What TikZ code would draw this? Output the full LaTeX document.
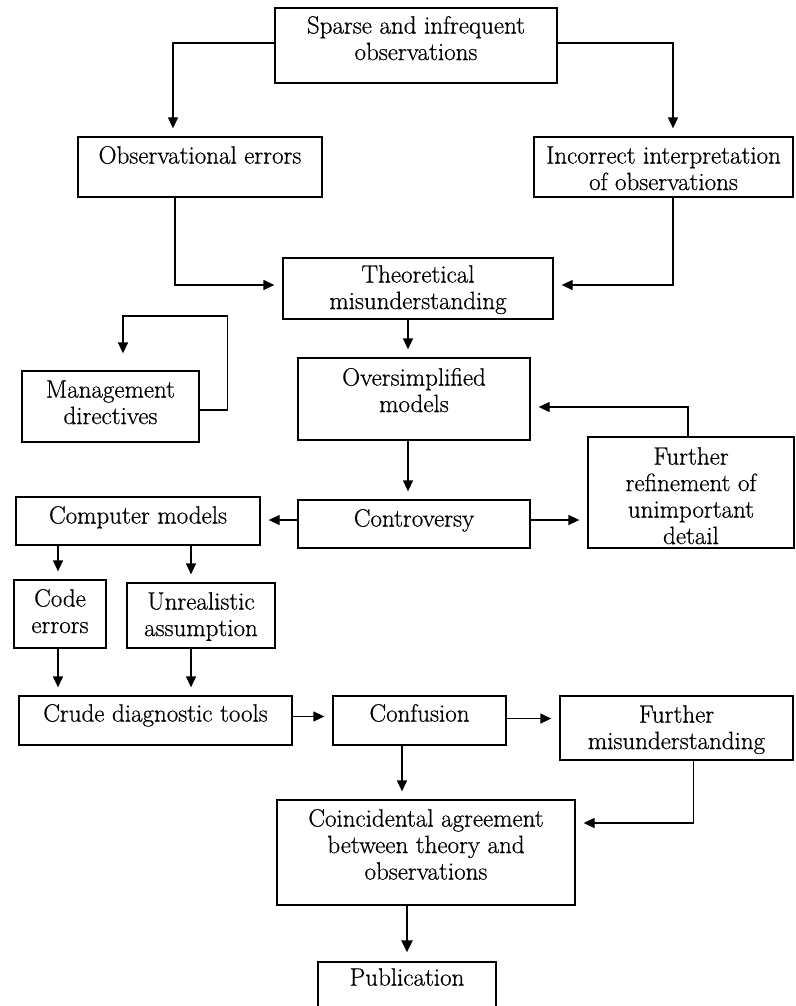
\documentclass[tikz,border=0pt]{standalone}
\usepackage{fontspec}
\setmainfont{Latin Modern Roman}[FakeBold=0.6]
\usetikzlibrary{arrows.meta}
\begin{document}
\begin{tikzpicture}[x=1pt,y=-1pt,
  box/.style={draw, line width=1.3pt, inner sep=0pt},
  txt/.style={anchor=north, align=center, inner sep=0pt, font=\fontsize{25}{26.5}\selectfont},
  arr/.style={line width=1.3pt, -{Triangle[length=11pt,width=10pt]}, shorten >=8pt},
  thickarr/.style={line width=2.4pt, -{Triangle[length=12pt,width=11pt]}, shorten >=9pt},
]
\useasboundingbox (0,0) rectangle (795,1006);

% boxes: [baseline drop of the first line] name, centre, width, height, text
\newcommand\flowbox[6][27]{\node[box, minimum width=#4pt, minimum height=#5pt,
  label={[txt]north:\rule{0pt}{#1pt}#6}] (#2) at #3 {};}

\flowbox[26]{sparse}{(416,45.5)}{282}{75}{Sparse and infrequent\\observations}
\flowbox{obs}{(200,167)}{244}{60}{Observational errors}
\flowbox{incorr}{(663.5,167)}{259}{60}{Incorrect interpretation\\of observations}
\flowbox[25]{theo}{(418,288.5)}{270}{61}{Theoretical\\misunderstanding}
\flowbox{mgmt}{(110.5,406.5)}{177}{71}{Management\\directives}
\flowbox[28]{over}{(414,399)}{232}{82}{Oversimplified\\models}
\flowbox[28]{refine}{(691,492.5)}{206}{111}{Further\\refinement of\\unimportant\\detail}
\flowbox{contro}{(414,524)}{232}{48}{Controversy}
\flowbox{comp}{(138,521)}{244}{48}{Computer models}
\flowbox{code}{(60,614)}{92}{68}{Code\\errors}
\flowbox{unreal}{(201,615.5)}{148}{65}{Unrealistic\\assumption}
\flowbox[26]{crude}{(155.5,720.5)}{273}{49}{Crude diagnostic tools}
\flowbox[26]{conf}{(419.5,720.5)}{173}{49}{Confusion}
\flowbox{fmis}{(676.5,728)}{233}{64}{Further\\misunderstanding}
\flowbox{coinc}{(426,852.5)}{298}{105}{Coincidental agreement\\between theory and\\observations}
\flowbox[24]{pub}{(407,986)}{178}{48}{Publication}

% connectors
\draw[arr] ([yshift=2.5pt]sparse.west) -| ([xshift=-27pt]obs.north);
\draw[arr] ([yshift=2.5pt]sparse.east) -| ([xshift=9.5pt]incorr.north);
\draw[arr] ([xshift=-25pt]obs.south) |- ([yshift=3.5pt]theo.west);
\draw[arr] ([xshift=9.5pt]incorr.south) |- ([yshift=3.5pt]theo.east);
\draw[arr, shorten >=17pt] ([yshift=-3.5pt]mgmt.east) -- ++(28,0) -- ++(0,-94)
  -| ([xshift=12.5pt]mgmt.north);
\draw[arr] ([xshift=-10pt]theo.south) -- ([xshift=-10pt]theo.south |- over.north);
\draw[arr] ([xshift=-3pt]refine.north) |- ([yshift=-8pt]over.east);
\draw[arr] ([xshift=-6pt]over.south) -- ([xshift=-6pt]over.south |- contro.north);
\draw[arr] ([yshift=4pt]contro.west) -- ([yshift=4pt]contro.west -| comp.east);
\draw[arr] ([yshift=4pt]contro.east) -- ([yshift=4pt]contro.east -| refine.west);
\draw[arr] ([xshift=-2pt]code.north |- comp.south) -- ([xshift=-2pt]code.north);
\draw[arr] ([xshift=-10pt]unreal.north |- comp.south) -- ([xshift=-10pt]unreal.north);
\draw[arr] ([xshift=-2pt]code.south) -- ([xshift=-2pt]code.south |- crude.north);
\draw[arr] ([xshift=-10pt]unreal.south) -- ([xshift=-10pt]unreal.south |- crude.north);
\draw[arr] ([yshift=4pt]crude.east) -- ([yshift=4pt]crude.east -| conf.west);
\draw[arr] ([yshift=2pt]conf.east) -- ([yshift=2pt]conf.east -| fmis.west);
\draw[arr] ([xshift=-17.5pt]conf.south) -- ([xshift=-17.5pt]conf.south |- coinc.north);
\draw[arr] ([xshift=17pt]fmis.south) |- ([yshift=29.5pt]coinc.east);
\draw[thickarr] (pub.north |- coinc.south) -- (pub.north);
\end{tikzpicture}
\end{document}
